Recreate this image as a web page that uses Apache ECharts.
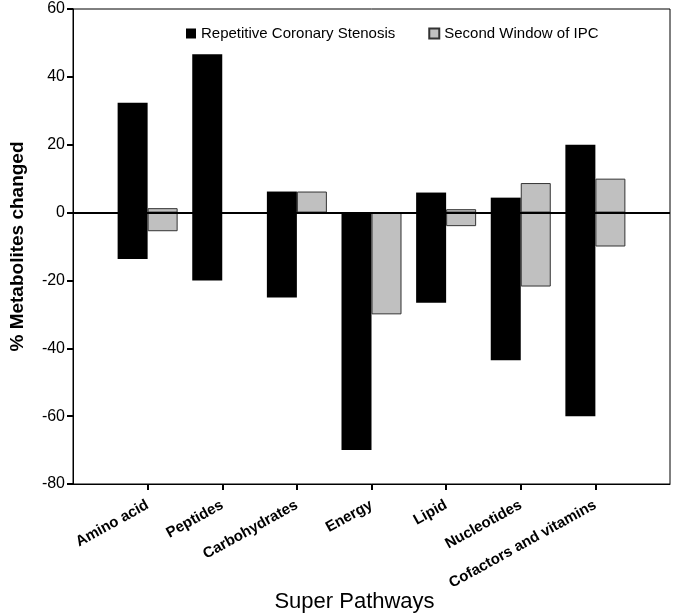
<!DOCTYPE html>
<html>
<head>
<meta charset="utf-8">
<script src="https://cdn.jsdelivr.net/npm/echarts@6/dist/echarts.min.js"></script>
<style>html,body{margin:0;padding:0;background:#fff;}#c{width:675px;height:615px;}</style>
</head>
<body>
<div id="c"></div>
<script>
const categories = ['Amino acid', 'Peptides', 'Carbohydrates', 'Energy', 'Lipid', 'Nucleotides', 'Cofactors and vitamins'];
const rcsUp   = [32.4, 46.7, 6.2, null, 5.9, 4.4, 20.0];
const rcsDown = [-13.7, -20.0, -25.0, -70.0, -26.6, -43.5, -60.0];
const ipcUp   = [1.3, null, 6.2, null, 1.0, 8.7, 10.0];
const ipcDown = [-5.5, null, null, -30.0, -4.0, -21.8, -10.0];
const yTicks = [-80, -60, -40, -20, 0, 20, 40, 60];
const seriesNames = ['Repetitive Coronary Stenosis', 'Second Window of IPC'];

const idx = categories.map((c, i) => i);
const toData = arr => arr.map((v, i) => [i, v == null ? '-' : v]);
const FONT = 'Liberation Sans, Arial, sans-serif';

const chart = echarts.init(document.getElementById('c'), null, {renderer: 'canvas'});
const blackStyle = {color: '#000000'};
const grayStyle = {color: '#c0c0c0', borderColor: '#333333', borderWidth: 1};

chart.setOption({
  animation: false,
  backgroundColor: '#ffffff',
  textStyle: {fontFamily: FONT},
  grid: {left: 73, right: 5, top: 9, bottom: 131, show: true, borderColor: '#000', borderWidth: 1, backgroundColor: '#fff',
    containLabel: false, outerBoundsMode: 'none'},
  legend: {
    data: seriesNames.map(n => ({name: n, icon: 'rect'})),
    left: 186, top: 26, itemWidth: 10, itemHeight: 10, itemGap: 33, padding: 0,
    textStyle: {fontSize: 15, color: '#000', fontFamily: FONT},
    selectedMode: false
  },
  xAxis: {
    type: 'value', min: -1, max: 7,
    splitLine: {show: false},
    axisLine: {show: true, onZero: false, lineStyle: {color: '#000', width: 1}},
    axisTick: {show: true, customValues: idx, length: 6, lineStyle: {color: '#000', width: 2}},
    axisLabel: {
      customValues: idx, formatter: v => categories[v], rotate: 29, margin: 20,
      fontSize: 15, fontWeight: 'bold', color: '#000', fontFamily: FONT
    },
    name: 'Super Pathways', nameLocation: 'middle', nameGap: 107, nameMoveOverlap: false,
    nameTextStyle: {fontSize: 22, color: '#000', fontFamily: FONT, padding: [0, 34, 0, 0]}
  },
  yAxis: {
    type: 'value', min: yTicks[0], max: yTicks[yTicks.length - 1], interval: 20,
    splitLine: {show: false},
    axisLine: {show: true, onZero: false, lineStyle: {color: '#000', width: 1}},
    axisTick: {show: true, length: 6, lineStyle: {color: '#000', width: 2}},
    axisLabel: {fontSize: 16, color: '#000', margin: 8, fontFamily: FONT},
    name: '% Metabolites changed', nameLocation: 'middle', nameGap: 46, nameMoveOverlap: false,
    nameTextStyle: {fontSize: 19, fontWeight: 'bold', color: '#000', fontFamily: FONT}
  },
  series: [
    {name: seriesNames[0], type: 'bar', stack: 'rcs', barWidth: 30, barGap: '0%', data: toData(rcsUp), itemStyle: blackStyle},
    {name: seriesNames[0], type: 'bar', stack: 'rcs', barWidth: 30, barGap: '0%', data: toData(rcsDown), itemStyle: blackStyle},
    {name: seriesNames[1], type: 'bar', stack: 'ipc', barWidth: 30, barGap: '0%', data: toData(ipcUp), itemStyle: grayStyle},
    {name: seriesNames[1], type: 'bar', stack: 'ipc', barWidth: 30, barGap: '0%', data: toData(ipcDown), itemStyle: grayStyle,
      markLine: {silent: true, symbol: 'none', label: {show: false}, lineStyle: {color: '#000', width: 2, type: 'solid'}, data: [{yAxis: 0}]}}
  ]
});
</script>
</body>
</html>
